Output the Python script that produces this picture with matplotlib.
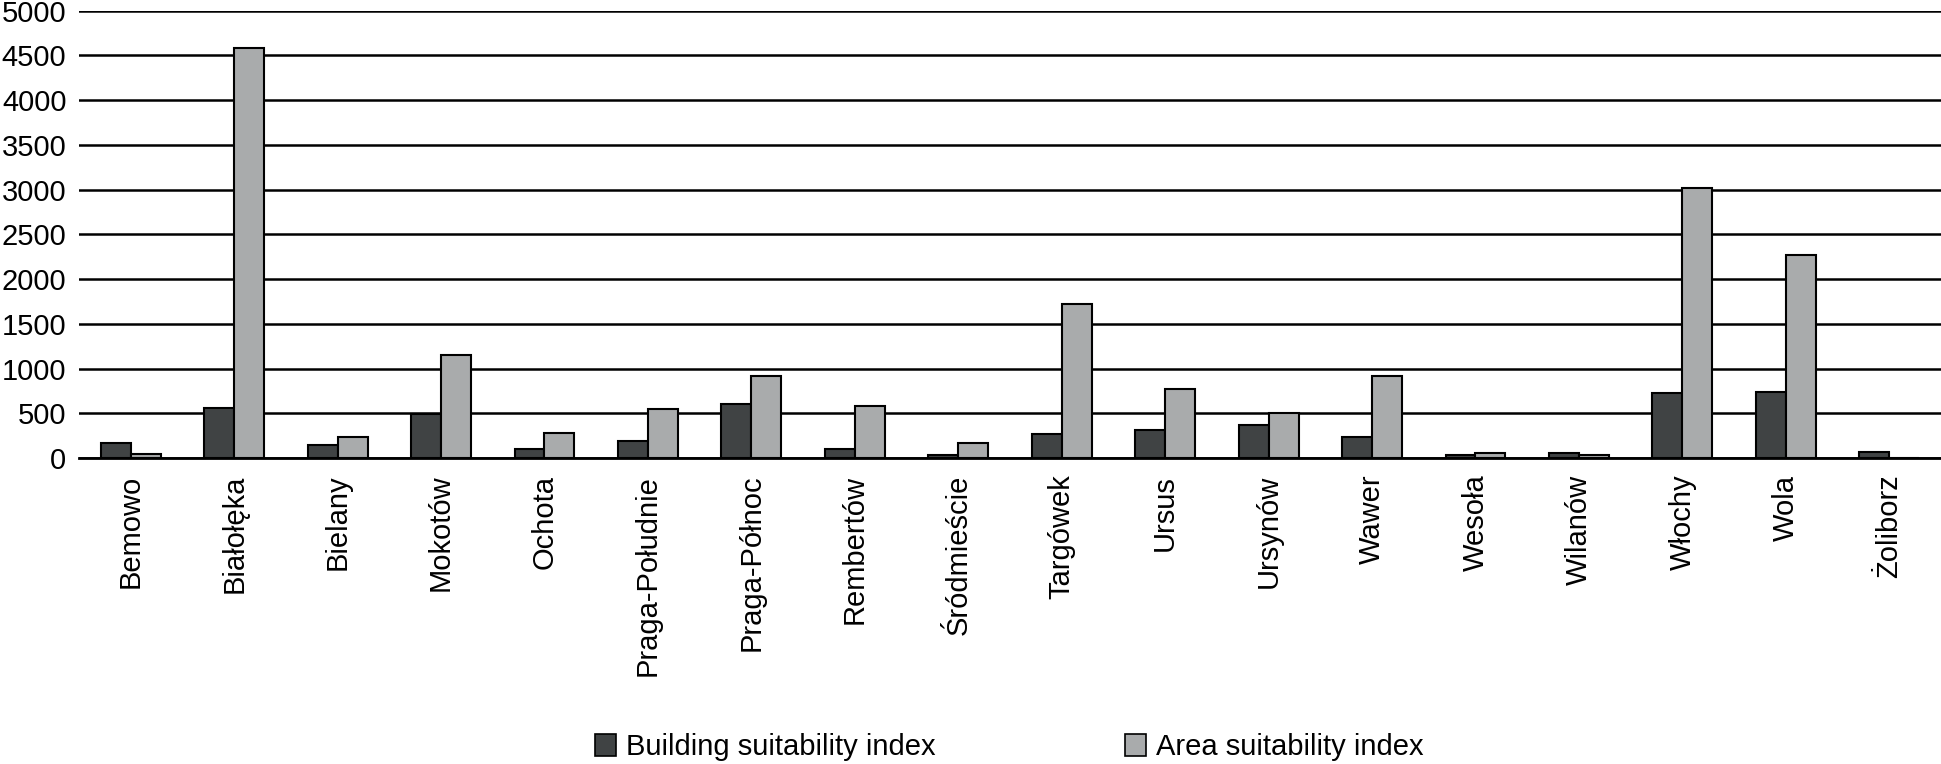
import matplotlib.pyplot as plt
import numpy as np
from matplotlib.patches import Patch

plt.rcParams['font.family'] = ['Liberation Sans', 'DejaVu Sans']

districts = ["Bemowo", "Białołęka", "Bielany", "Mokotów", "Ochota", "Praga-Południe",
             "Praga-Północ", "Rembertów", "Śródmieście", "Targówek", "Ursus", "Ursynów",
             "Wawer", "Wesoła", "Wilanów", "Włochy", "Wola", "Żoliborz"]
building_index = [171, 562, 141, 495, 97, 186, 599, 104, 37, 268, 312, 365,
                  231, 37, 56, 725, 737, 67]
area_index = [48, 4580, 234, 1146, 279, 551, 919, 577, 167, 1719, 770, 506,
              915, 60, 37, 3013, 2273, 0]
y_ticks = [0, 500, 1000, 1500, 2000, 2500, 3000, 3500, 4000, 4500, 5000]

DARK = "#404344"
LIGHT = "#a9abac"
FS = 21

fig = plt.figure(figsize=(19.41, 7.64), dpi=100)
ax = fig.add_axes([0.0407, 0.4005, 0.9593, 0.5855])

x = np.arange(len(districts))
w = 0.29
ax.bar(x - w / 2, building_index, w, color=DARK, edgecolor="black", linewidth=1.5, zorder=3)
ax.bar(x + w / 2, area_index, w, color=LIGHT, edgecolor="black", linewidth=1.5, zorder=3)

ax.set_xlim(-0.5, len(districts) - 0.5)
ax.set_ylim(0, 5000)
ax.set_yticks(y_ticks)
ax.set_yticklabels([str(t) for t in y_ticks], fontsize=FS)
ax.yaxis.grid(True, color="black", linewidth=1.8, zorder=0)
ax.set_axisbelow(True)

ax.set_xticks(x)
ax.set_xticklabels(districts, rotation=90, fontsize=FS, ha="center", va="top")
ax.tick_params(axis="x", length=0, pad=12)
ax.tick_params(axis="y", length=0, pad=9)

for s in ["top", "right", "left"]:
    ax.spines[s].set_visible(False)
ax.spines["bottom"].set_linewidth(2)
ax.spines["bottom"].set_zorder(4)

handles = [Patch(facecolor=DARK, edgecolor="black", linewidth=1.2),
           Patch(facecolor=LIGHT, edgecolor="black", linewidth=1.2)]
fig.legend(handles, ["Building suitability index", "Area suitability index"],
           loc="center", bbox_to_anchor=(0.52, 0.022), ncol=2, frameon=False,
           fontsize=FS, handlelength=0.72, handleheight=0.75,
           handletextpad=0.35, columnspacing=6.5)

fig.savefig("out.png", dpi=100)
